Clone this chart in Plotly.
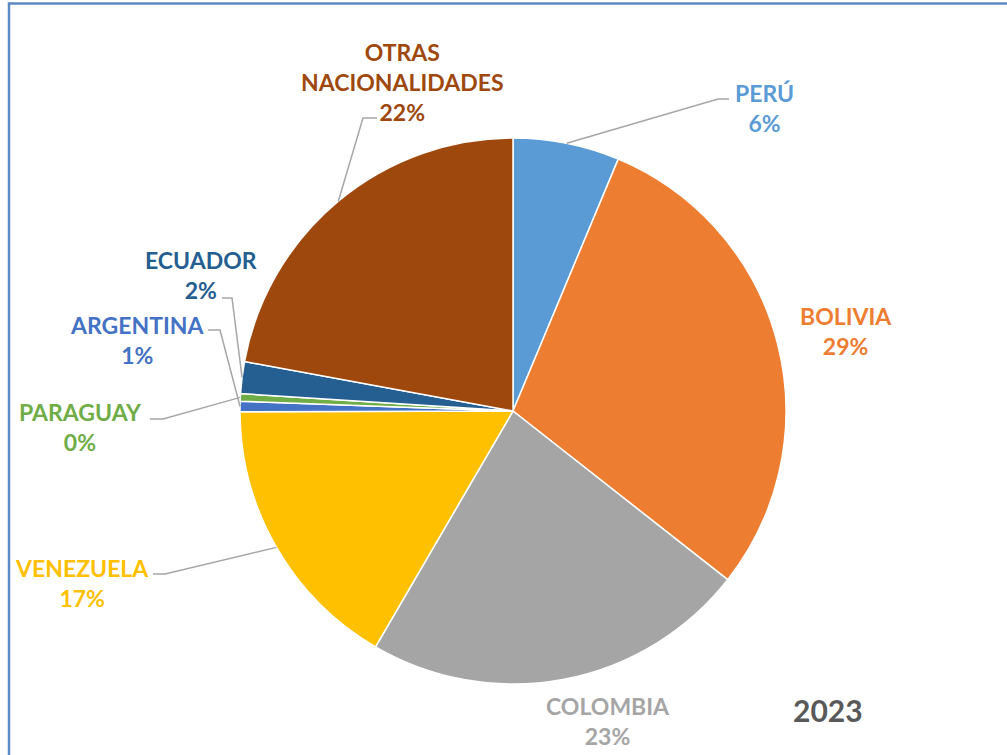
import math
import plotly.graph_objects as go

# ---- data ----
countries = ["PERÚ", "BOLIVIA", "COLOMBIA", "VENEZUELA", "ARGENTINA", "PARAGUAY", "ECUADOR", "OTRAS NACIONALIDADES"]
shares = [6.3, 29.3, 22.8, 16.55, 0.62, 0.45, 1.88, 22.1]
year_label = "2023"

# ---- style ----
colors = ["#5B9BD5", "#ED7D31", "#A5A5A5", "#FFC000", "#4472C4", "#70AD47", "#255E91", "#9E480E"]
label_text = ["PERÚ", "BOLIVIA", "COLOMBIA", "VENEZUELA", "ARGENTINA", "PARAGUAY", "ECUADOR", "OTRAS<br>NACIONALIDADES"]
W, H = 1007, 755
CX, CY, R = 513, 411, 273  # pie center / radius in pixels
# label centre (px) for each slice
label_pos = [(764, 108), (846, 331), (608, 721), (82, 583), (137, 340), (80, 427), (201, 275), (402, 82)]
# leader lines: (label-side start, elbow) in px, None = no leader
leaders = [((729, 99), (718, 99)), None, None, ((153, 574), (165, 574)),
           ((208, 330), (220, 330)), ((150, 419), (163, 419)), ((222, 298), (232, 298)),
           ((377, 118), (363, 118))]
FONT = "Lato"


def px(x):
    return x / W


def py(y):
    return 1 - y / H


fig = go.Figure(go.Pie(
    labels=countries, values=shares, sort=False, direction="clockwise", rotation=0,
    marker=dict(colors=colors, line=dict(color="white", width=1.5)),
    textinfo="none", hoverinfo="label+percent", showlegend=False,
    domain=dict(x=[px(CX - R), px(CX + R)], y=[py(CY + R), py(CY - R)]),
))

total = sum(shares)
cum = 0.0
annotations = []
shapes = []
for i, v in enumerate(shares):
    mid = (cum + v / 2) / total * 2 * math.pi
    cum += v
    ex = CX + R * math.sin(mid)
    ey = CY - R * math.cos(mid)
    pct = round(v / total * 100)
    lx, ly = label_pos[i]
    annotations.append(dict(
        x=px(lx), y=py(ly), xref="paper", yref="paper", xanchor="center", yanchor="middle",
        text=f"<b>{label_text[i]}<br>{pct}%</b>", showarrow=False, align="center",
        font=dict(family=FONT, size=23, color=colors[i]),
    ))
    if leaders[i] is not None:
        (sx, sy), (bx, by) = leaders[i]
        path = f"M {px(sx)} {py(sy)} L {px(bx)} {py(by)} L {px(ex)} {py(ey)}"
        shapes.append(dict(type="path", xref="paper", yref="paper", path=path,
                           line=dict(color="#A6A6A6", width=1.5)))

annotations.append(dict(
    x=px(828), y=py(710), xref="paper", yref="paper", xanchor="center", yanchor="middle",
    text=f"<b>{year_label}</b>", showarrow=False,
    font=dict(family=FONT, size=30, color="#595959"),
))

# frame
shapes.append(dict(type="path", xref="paper", yref="paper",
                   path=f"M {px(9)} 0 L {px(9)} {py(3.5)} L 1 {py(3.5)}",
                   line=dict(color="#5B8BC6", width=2.5)))

fig.update_layout(
    width=W, height=H, margin=dict(l=0, r=0, t=0, b=0),
    paper_bgcolor="white", plot_bgcolor="white",
    annotations=annotations, shapes=shapes,
)

fig.write_html("out.html", config={"displayModeBar": False},
               post_script="document.body.style.margin='0';document.body.style.overflow='hidden';")
